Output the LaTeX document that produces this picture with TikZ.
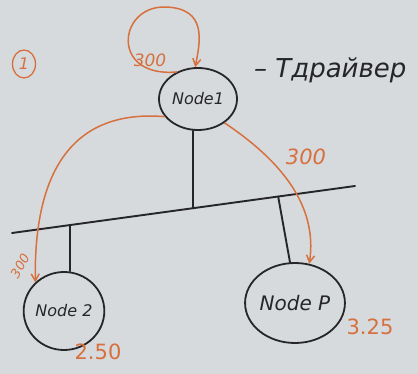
\documentclass[tikz,border=0pt]{standalone}
\usepackage{fontspec}
\setmainfont{DejaVu Sans}
\usetikzlibrary{arrows.meta,shapes.geometric,calc}
\definecolor{board}{RGB}{214,218,221}
\definecolor{marker}{RGB}{214,112,62}
\definecolor{ink}{RGB}{38,38,40}
\tikzset{
  hostnode/.style={draw=ink, ellipse, line width=1.8pt, inner sep=0pt, text=ink, font=\itshape\fontsize{16}{18}\selectfont},
  wire/.style={draw=ink, line width=1.9pt, line cap=round},
  flow/.style={draw=marker, line width=1.5pt, -{Straight Barb[length=7pt,width=8pt]}},
  cost/.style={text=marker, font=\itshape\fontsize{17}{19}\selectfont, inner sep=0pt}
}
\begin{document}
\begin{tikzpicture}[x=1pt,y=-1pt]
  % whiteboard
  \fill[board] (0,0) rectangle (418,374);
  \useasboundingbox (0,0) rectangle (418,374);

  % hosts
  \node[hostnode, minimum width=78pt, minimum height=62pt] (n1) at (198,99) {Node1};
  \node[hostnode, minimum width=76pt, minimum height=78pt] (n2) at (64,311) {Node 2};
  \node[hostnode, minimum width=94pt, minimum height=80pt, font=\itshape\fontsize{20}{22}\selectfont] (np) at (295,303) {Node P};

  % shared bus
  \coordinate (busL) at (12,233);
  \coordinate (busR) at (355,186);
  \draw[wire] (busL) -- (busR);
  \coordinate (t1) at ($(busL)!0.528!(busR)$);
  \coordinate (t2) at ($(busL)!0.169!(busR)$);
  \coordinate (tp) at ($(busL)!0.776!(busR)$);
  \draw[wire] (t1 |- n1.south) -- (t1);
  \draw[wire] (t2) -- (t2 |- n2.north);
  \draw[wire] (tp) -- (np.97);

  % transfers
  \draw[flow] (n1.128) .. controls (110,78) and (118,6) .. (165,7)
              .. controls (208,8) and (200,42) .. (n1.95);
  \draw[flow] (n1.-42) .. controls (280,160) and (318,205) .. (np.70);
  \draw[flow] (n1.208) .. controls (60,108) and (34,190) .. (n2.135);

  % labels
  \node[cost] (c1) at (150,60) {300};
  \node[cost, font=\itshape\fontsize{21}{23}\selectfont] (c2) at (306,157) {300};
  \node[cost, rotate=60, font=\itshape\fontsize{13}{15}\selectfont] (c3) at (20,266) {300};
  \node[cost, font=\fontsize{21}{23}\selectfont] (w2) at (98,352) {2.50};
  \node[cost, font=\fontsize{21}{23}\selectfont] (wp) at (370,327) {3.25};
  \node[draw=marker, ellipse, line width=1.3pt, minimum width=23pt, minimum height=28pt,
        text=marker, inner sep=0pt, font=\itshape\fontsize{16}{18}\selectfont] (num) at (24,64) {1};
  \node[text=ink, font=\itshape\fontsize{26}{30}\selectfont, anchor=west, inner sep=0pt] (drv) at (254,70) {– Тдрайвер};
\end{tikzpicture}
\end{document}
